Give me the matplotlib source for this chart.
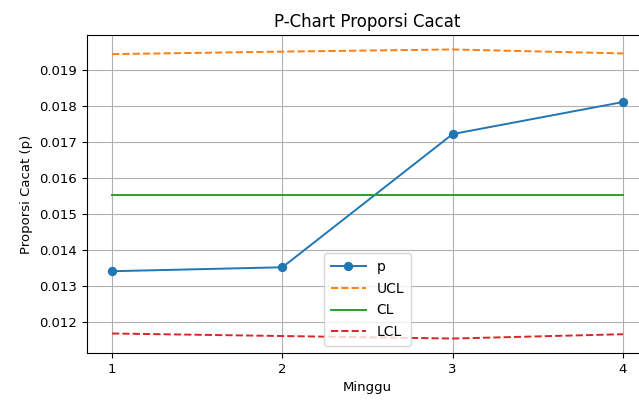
import numpy as np
import matplotlib.pyplot as plt

# Data p-chart per minggu
minggu = [1, 2, 3, 4]
p = [0.01341, 0.01352, 0.01722, 0.01811]
cl = [0.01553, 0.01553, 0.01553, 0.01553]
ucl = [0.01944, 0.01951, 0.01957, 0.01946]
lcl = [0.01168, 0.01161, 0.01154, 0.01166]

plt.rcParams['font.size'] = 9.5

fig, ax = plt.subplots(figsize=(6.39, 4.0), dpi=100)

ax.plot(minggu, p, marker='o', lw=1.4, ms=5.7, label='p')
ax.plot(minggu, ucl, linestyle='--', lw=1.4, color='tab:orange', label='UCL')
ax.plot(minggu, cl, linestyle='-', lw=1.4, color='tab:green', label='CL')
ax.plot(minggu, lcl, linestyle='--', lw=1.4, color='tab:red', label='LCL')

ax.set_title("P-Chart Proporsi Cacat", fontsize=12)
ax.set_xlabel("Minggu")
ax.set_ylabel("Proporsi Cacat (p)")
ax.set_xticks(minggu)
ax.grid(True)
ax.legend(loc='lower center', fontsize=10, handlelength=2.5, labelspacing=0.55,
          borderpad=0.5)

# gambar asli terpotong di sisi kanan
plt.subplots_adjust(left=0.1354, right=1.0149, top=0.9125, bottom=0.1175)
plt.savefig("out.png")
